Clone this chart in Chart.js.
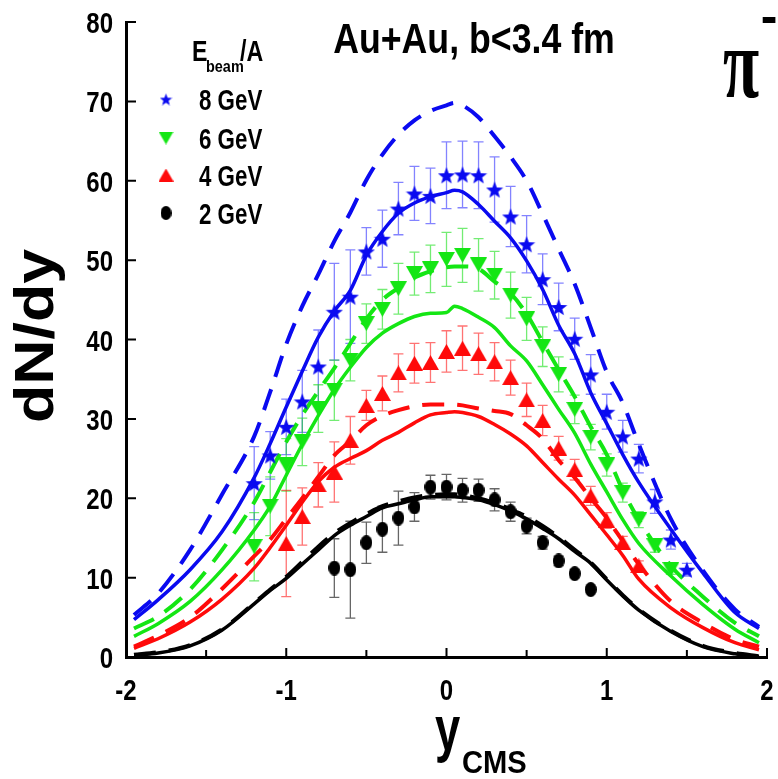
<!DOCTYPE html>
<html lang="en">
<head>
<meta charset="UTF-8">
<title>pi- dN/dy, Au+Au b&lt;3.4 fm</title>
<script src="https://cdn.jsdelivr.net/npm/chart.js"></script>
<style>
    body { margin: 0; background: #fff; }
    #wrap { width: 778px; height: 779px; }
</style>
</head>
<body>
<div id="wrap"><canvas id="chart" width="778" height="779"></canvas></div>
<script>
// model curves, all on the same rapidity grid
const curveRap = [-1.95, -1.8, -1.6, -1.4, -1.2, -1.1, -1.0, -0.9, -0.8, -0.7, -0.6, -0.5, -0.4, -0.3, -0.2, -0.1, 0, 0.05, 0.1, 0.2, 0.3, 0.4, 0.5, 0.6, 0.7, 0.8, 0.9, 1.0, 1.1, 1.2, 1.4, 1.6, 1.8, 1.95];
const dash8  = [5.3, 8.0, 13.5, 20.5, 27.8, 33.4, 39.4, 44.2, 48.2, 52.4, 56.0, 60.1, 63.3, 65.8, 67.6, 68.8, 69.5, 69.8, 69.5, 68.0, 65.6, 63.0, 60.0, 55.8, 51.4, 47.0, 41.5, 35.9, 32.0, 26.8, 17.4, 10.9, 6.0, 3.8];
const solid8 = [4.7, 7.2, 11.0, 15.8, 22.6, 26.9, 31.5, 36.0, 40.3, 43.6, 46.2, 50.6, 53.6, 55.9, 57.2, 58.0, 58.5, 58.8, 58.6, 57.0, 54.9, 52.8, 49.9, 46.3, 41.8, 38.2, 33.3, 29.4, 25.5, 22.0, 16.1, 10.6, 5.6, 3.6];
const dash6  = [3.6, 5.1, 8.5, 13.5, 19.5, 23.3, 27.1, 30.5, 33.5, 36.4, 39.5, 42.6, 45.0, 46.5, 47.8, 48.6, 49.1, 49.2, 49.2, 48.9, 47.3, 45.8, 43.2, 39.7, 36.2, 32.8, 29.0, 25.5, 21.0, 17.3, 11.5, 7.6, 4.3, 2.6];
const solid6 = [2.6, 4.2, 7.0, 11.0, 16.0, 19.0, 22.9, 26.8, 30.4, 33.7, 36.5, 39.0, 40.8, 42.0, 42.9, 43.3, 43.4, 44.2, 43.9, 42.8, 41.5, 39.2, 37.3, 34.3, 31.2, 28.2, 24.3, 20.8, 17.3, 14.3, 10.2, 6.6, 3.5, 1.8];
const dash4  = [1.3, 2.7, 5.0, 8.6, 12.7, 14.8, 17.4, 20.0, 22.7, 25.4, 27.2, 29.2, 30.4, 31.1, 31.6, 31.8, 31.8, 31.8, 31.7, 31.3, 31.0, 30.6, 29.2, 27.5, 24.8, 22.6, 20.0, 17.5, 14.6, 11.7, 7.0, 4.3, 2.2, 1.3];
const solid4 = [1.1, 2.3, 4.4, 7.3, 11.2, 13.8, 16.6, 19.5, 22.1, 23.9, 25.0, 26.0, 27.3, 28.3, 29.5, 30.5, 30.8, 30.9, 30.8, 30.3, 29.3, 28.1, 26.6, 24.5, 22.4, 20.4, 17.9, 15.4, 12.8, 9.8, 6.2, 3.7, 1.8, 0.9];
const dash2  = [0.3, 0.6, 1.5, 3.5, 6.8, 8.5, 10.1, 12.0, 13.9, 15.6, 16.9, 18.0, 19.0, 19.6, 20.1, 20.4, 20.5, 20.5, 20.4, 20.0, 19.4, 18.6, 17.7, 16.5, 15.1, 13.5, 11.9, 9.8, 7.8, 6.0, 3.3, 1.4, 0.5, 0.1];
const solid2 = [0.25, 0.5, 1.4, 3.4, 6.7, 8.4, 9.9, 11.7, 13.5, 15.3, 16.6, 17.7, 18.8, 19.3, 19.8, 20.2, 20.2, 20.2, 20.1, 19.8, 19.2, 18.4, 17.4, 16.2, 14.9, 13.3, 11.8, 9.7, 7.7, 5.9, 3.2, 1.3, 0.4, 0.05];

// measured points with errors
const rap8 = [-1.2, -1.1, -1.0, -0.9, -0.8, -0.7, -0.6, -0.5, -0.4, -0.3, -0.2, -0.1, 0, 0.1, 0.2, 0.3, 0.4, 0.5, 0.6, 0.7, 0.8, 0.9, 1.0, 1.1, 1.2, 1.3, 1.4, 1.5];
const val8 = [21.9, 25.4, 29.0, 32.2, 36.6, 43.5, 45.4, 51.1, 52.7, 56.5, 58.4, 58.1, 60.7, 60.8, 60.7, 58.9, 55.5, 52.0, 47.6, 44.1, 40.1, 35.6, 30.9, 27.8, 25.0, 19.6, 14.8, 11.0];
const err8 = [4.6, 3.0, 3.5, 3.9, 4.6, 6.1, 5.9, 3.0, 3.6, 3.3, 3.4, 3.5, 4.2, 4.2, 4.2, 4.1, 3.8, 3.6, 3.2, 3.0, 2.6, 2.5, 2.2, 2.0, 1.8, 1.5, 1.2, 0.8];

const rap6 = [-1.2, -1.1, -1.0, -0.9, -0.8, -0.7, -0.6, -0.5, -0.4, -0.3, -0.2, -0.1, 0, 0.1, 0.2, 0.3, 0.4, 0.5, 0.6, 0.7, 0.8, 0.9, 1.0, 1.1, 1.2, 1.3, 1.4];
const val6 = [13.9, 19.0, 24.2, 27.1, 31.3, 33.6, 37.4, 42.0, 43.8, 46.4, 48.3, 48.9, 50.1, 50.6, 49.4, 48.1, 45.6, 42.6, 39.1, 35.6, 31.2, 27.7, 24.2, 20.7, 17.3, 14.0, 11.0];
const err6 = [4.3, 3.7, 3.3, 3.0, 3.0, 3.8, 2.6, 2.5, 2.5, 3.2, 2.7, 3.0, 3.4, 3.4, 3.3, 3.0, 2.9, 2.7, 2.5, 2.2, 1.8, 1.6, 1.4, 1.2, 1.0, 0.8, 0.6];

const rap4 = [-1.0, -0.9, -0.8, -0.7, -0.6, -0.5, -0.4, -0.3, -0.2, -0.1, 0, 0.1, 0.2, 0.3, 0.4, 0.5, 0.6, 0.7, 0.8, 0.9, 1.0, 1.1, 1.2];
const val4 = [14.3, 17.7, 21.7, 23.3, 27.3, 31.7, 33.2, 35.8, 37.0, 37.1, 38.5, 38.9, 38.2, 37.2, 35.2, 32.4, 29.8, 26.3, 23.6, 20.3, 17.2, 14.4, 11.5];
const err4 = [6.7, 3.6, 2.8, 3.8, 3.0, 1.9, 2.2, 2.4, 2.5, 2.5, 2.6, 2.8, 2.6, 2.4, 2.2, 2.1, 1.9, 1.5, 1.3, 1.2, 1.0, 0.8, 0.6];

const rap2 = [-0.7, -0.6, -0.5, -0.4, -0.3, -0.2, -0.1, 0, 0.1, 0.2, 0.3, 0.4, 0.5, 0.6, 0.7, 0.8, 0.9];
const val2 = [11.2, 11.0, 14.4, 16.1, 17.5, 18.9, 21.4, 21.4, 21.0, 21.0, 19.8, 18.3, 16.5, 14.4, 12.1, 10.5, 8.5];
const err2 = [3.7, 6.1, 2.6, 2.9, 3.4, 1.8, 1.5, 1.6, 1.5, 1.4, 1.4, 1.2, 1.0, 0.8, 0.6, 0.5, 0.4];

// axis ticks
const xTickMarks = [-2, -1.5, -1, -0.5, 0, 0.5, 1, 1.5, 2];
const yTickMarks = [0, 10, 20, 30, 40, 50, 60, 70, 80];
const legendLabels = ['8 GeV', '6 GeV', '4 GeV', '2 GeV'];

const BLUE = '#0a0af0', GREEN = '#14e614', RED = '#ff0a0a', BLACK = '#000';
const SANS = '"Liberation Sans", Arial, sans-serif';

// filled marker shapes as little canvases (Chart.js draws them centred on the point)
function makeMarker(kind, color, w, h) {
    const c = document.createElement('canvas');
    c.width = w; c.height = h;
    const g = c.getContext('2d');
    g.fillStyle = color;
    g.beginPath();
    if (kind === 'star') {
        const R = w / 2, r = R * 0.42;
        for (let k = 0; k < 10; k++) {
            const rad = k % 2 ? r : R;
            const a = -Math.PI / 2 + k * Math.PI / 5;
            g.lineTo(w / 2 + rad * Math.cos(a), h / 2 + 1 + rad * Math.sin(a));
        }
    } else if (kind === 'down') {
        g.moveTo(0, 0); g.lineTo(w, 0); g.lineTo(w / 2, h);
    } else if (kind === 'up') {
        g.moveTo(w / 2, 0); g.lineTo(w, h); g.lineTo(0, h);
    } else {
        g.ellipse(w / 2, h / 2, w / 2, h / 2, 0, 0, Math.PI * 2);
    }
    g.closePath();
    g.fill();
    return c;
}

const markers = [
    makeMarker('star', BLUE, 18, 18),
    makeMarker('down', GREEN, 17, 15),
    makeMarker('up', RED, 17, 15),
    makeMarker('dot', BLACK, 12, 15)
];
const legendMarkers = [
    makeMarker('star', BLUE, 13, 13),
    makeMarker('down', GREEN, 15, 13),
    makeMarker('up', RED, 15, 13),
    makeMarker('dot', BLACK, 11, 14)
];

function pairs(xs, ys) {
    return xs.map((x, i) => ({ x: x, y: ys[i] }));
}

function curve(ys, color, dashed) {
    return {
        data: pairs(curveRap, ys),
        showLine: true,
        borderColor: color,
        borderWidth: dashed ? 4 : 3.5,
        borderDash: dashed ? [22, 13] : [],
        pointRadius: 0,
        fill: false,
        cubicInterpolationMode: 'monotone',
        order: 2
    };
}

function points(xs, ys, errs, marker, errColor) {
    return {
        data: pairs(xs, ys),
        showLine: false,
        pointStyle: marker,
        pointRadius: 8,
        errors: errs,
        errorColor: errColor,
        order: 1
    };
}

// vertical error bars with caps, drawn under lines and markers
const errorBars = {
    id: 'errorBars',
    beforeDatasetsDraw(chart) {
        const ctx = chart.ctx, xs = chart.scales.x, ys = chart.scales.y;
        chart.data.datasets.forEach(ds => {
            if (!ds.errors) return;
            ctx.save();
            ctx.strokeStyle = ds.errorColor;
            ctx.lineWidth = 1.3;
            ds.data.forEach((p, i) => {
                const e = ds.errors[i];
                const px = xs.getPixelForValue(p.x);
                const top = ys.getPixelForValue(p.y + e);
                const bot = ys.getPixelForValue(p.y - e);
                ctx.beginPath();
                ctx.moveTo(px, top); ctx.lineTo(px, bot);
                ctx.moveTo(px - 5, top); ctx.lineTo(px + 5, top);
                ctx.moveTo(px - 5, bot); ctx.lineTo(px + 5, bot);
                ctx.stroke();
            });
            ctx.restore();
        });
    }
};

function drawText(ctx, s, x, y, size, sx, sy, align, family) {
    ctx.save();
    ctx.translate(x, y);
    ctx.scale(sx, sy);
    ctx.font = 'bold ' + size + 'px ' + (family || SANS);
    ctx.textAlign = align;
    ctx.textBaseline = 'alphabetic';
    ctx.fillStyle = '#000';
    ctx.fillText(s, 0, 0);
    ctx.restore();
}

// inward ticks, condensed tick labels, titles, legend
const decorations = {
    id: 'decorations',
    afterDraw(chart) {
        const ctx = chart.ctx, xs = chart.scales.x, ys = chart.scales.y, a = chart.chartArea;
        ctx.save();
        ctx.strokeStyle = '#000';
        ctx.lineWidth = 2;
        ctx.beginPath();
        xTickMarks.forEach(v => {
            const px = xs.getPixelForValue(v);
            const len = Number.isInteger(v) ? 9 : 7;
            ctx.moveTo(px, a.bottom); ctx.lineTo(px, a.bottom - len);
        });
        yTickMarks.forEach(v => {
            const py = ys.getPixelForValue(v);
            ctx.moveTo(a.left, py); ctx.lineTo(a.left + 10, py);
        });
        ctx.stroke();
        ctx.restore();

        // tick labels from the scales' own ticks
        xs.ticks.forEach(t => {
            drawText(ctx, String(t.value), xs.getPixelForValue(t.value), a.bottom + 43, 30, 0.8, 1, 'center');
        });
        ys.ticks.forEach(t => {
            drawText(ctx, String(t.value), a.left - 13, ys.getPixelForValue(t.value) + 11, 30, 0.8, 1, 'right');
        });

        // title and particle label
        drawText(ctx, 'Au+Au, b<3.4 fm', 474, 53, 42, 0.85, 1, 'center');
        drawText(ctx, 'π', 741, 97, 66, 1, 1.5, 'center', '"Liberation Serif", "DejaVu Serif", serif');
        drawText(ctx, '-', 769, 33, 50, 1, 1, 'center');

        // axis titles
        ctx.save();
        ctx.translate(53, 336);
        ctx.rotate(-Math.PI / 2);
        drawText(ctx, 'dN/dy', 0, 0, 56, 1.12, 1, 'center');
        ctx.restore();
        drawText(ctx, 'y', 435, 750, 63, 0.72, 1, 'left');
        drawText(ctx, 'CMS', 462, 773, 32, 0.91, 1, 'left');

        // legend
        drawText(ctx, 'E', 192, 61, 29, 0.8, 1, 'left');
        drawText(ctx, 'beam', 206, 72, 17, 0.85, 1, 'left');
        drawText(ctx, '/A', 240, 61, 29, 0.8, 1, 'left');
        const rows = [99, 138, 175, 213];
        legendLabels.forEach((lab, i) => {
            const m = legendMarkers[i];
            ctx.drawImage(m, 166 - m.width / 2, rows[i] - m.height / 2);
            drawText(ctx, lab, 199, rows[i] + 11, 29, 0.77, 1, 'left');
        });
    }
};

new Chart(document.getElementById('chart'), {
    type: 'scatter',
    data: {
        datasets: [
            curve(dash8, BLUE, true),
            curve(solid8, BLUE, false),
            curve(dash6, GREEN, true),
            curve(solid6, GREEN, false),
            curve(dash4, RED, true),
            curve(solid4, RED, false),
            curve(dash2, BLACK, true),
            curve(solid2, BLACK, false),
            points(rap8, val8, err8, markers[0], 'rgba(30,30,255,0.55)'),
            points(rap6, val6, err6, markers[1], 'rgba(0,220,0,0.55)'),
            points(rap4, val4, err4, markers[2], 'rgba(255,0,0,0.55)'),
            points(rap2, val2, err2, markers[3], 'rgba(0,0,0,0.6)')
        ]
    },
    options: {
        responsive: false,
        animation: false,
        layout: { padding: { top: 22, right: 11, left: 0, bottom: 0 } },
        plugins: { legend: { display: false }, tooltip: { enabled: false } },
        scales: {
            x: {
                type: 'linear',
                min: -2, max: 2,
                grid: { display: false, drawTicks: false },
                border: { display: true, color: '#000', width: 3 },
                ticks: { stepSize: 1, display: false },
                afterFit: s => { s.height = 122; }
            },
            y: {
                min: 0, max: 80,
                grid: { display: false, drawTicks: false },
                border: { display: true, color: '#000', width: 3 },
                ticks: { stepSize: 10, display: false },
                afterFit: s => { s.width = 126; }
            }
        }
    },
    plugins: [errorBars, decorations]
});
</script>
</body>
</html>
